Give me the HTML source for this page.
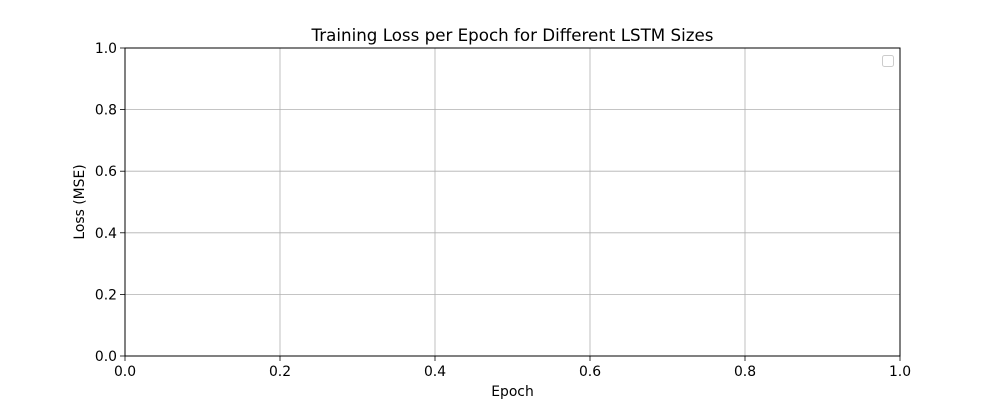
<!DOCTYPE html>
<html>
<head>
<meta charset="utf-8">
<style>
  html, body { margin: 0; padding: 0; background: #fff; }
  svg text { font-family: "DejaVu Sans", "Liberation Sans", sans-serif; fill: #000; }
</style>
</head>
<body>
<svg id="chart" width="1000" height="400" viewBox="0 0 1000 400" xmlns="http://www.w3.org/2000/svg">
  <rect x="0" y="0" width="1000" height="400" fill="#fff"/>
  <text x="512.5" y="41" font-size="16.7" text-anchor="middle">Training Loss per Epoch for Different LSTM Sizes</text>
  <g id="grid"></g>
  <g id="xticks"></g>
  <g id="yticks"></g>
  <rect x="125" y="48" width="775" height="308" fill="none" stroke="#000" stroke-width="1"/>
  <text x="512.5" y="396" font-size="13.9" text-anchor="middle">Epoch</text>
  <text x="0" y="0" font-size="13.9" text-anchor="middle" transform="translate(84,202) rotate(-90)">Loss (MSE)</text>
  <rect x="882.5" y="55.5" width="11" height="11" rx="2" fill="#fff" stroke="#ccc" stroke-width="1"/>
</svg>
<script>
const xTickValues = [0.0, 0.2, 0.4, 0.6, 0.8, 1.0];
const yTickValues = [0.0, 0.2, 0.4, 0.6, 0.8, 1.0];
const xTickLabels = ["0.0", "0.2", "0.4", "0.6", "0.8", "1.0"];
const yTickLabels = ["0.0", "0.2", "0.4", "0.6", "0.8", "1.0"];

const NS = "http://www.w3.org/2000/svg";
const L = 125, R = 900, T = 48, B = 356;
const xMin = 0, xMax = 1, yMin = 0, yMax = 1;
function xScale(v) { return L + (v - xMin) / (xMax - xMin) * (R - L); }
function yScale(v) { return B - (v - yMin) / (yMax - yMin) * (B - T); }

const grid = document.getElementById("grid");
const gx = document.getElementById("xticks");
const gy = document.getElementById("yticks");

xTickValues.forEach((v, i) => {
  const x = xScale(v);
  const gl = document.createElementNS(NS, "line");
  gl.setAttribute("x1", x); gl.setAttribute("x2", x);
  gl.setAttribute("y1", T); gl.setAttribute("y2", B);
  gl.setAttribute("stroke", "#b0b0b0"); gl.setAttribute("stroke-width", "0.8");
  
  
  grid.appendChild(gl);
  const tk = document.createElementNS(NS, "line");
  tk.setAttribute("x1", x); tk.setAttribute("x2", x);
  tk.setAttribute("y1", B); tk.setAttribute("y2", B + 5);
  tk.setAttribute("stroke", "#000"); tk.setAttribute("stroke-width", "0.8");
  
  
  gx.appendChild(tk);
  const t = document.createElementNS(NS, "text");
  t.setAttribute("x", x); t.setAttribute("y", B + 20);
  t.setAttribute("font-size", "13.9"); t.setAttribute("text-anchor", "middle");
  t.textContent = xTickLabels[i];
  
  
  gx.appendChild(t);
});

yTickValues.forEach((v, i) => {
  const y = yScale(v);
  const gl = document.createElementNS(NS, "line");
  gl.setAttribute("x1", L); gl.setAttribute("x2", R);
  gl.setAttribute("y1", y); gl.setAttribute("y2", y);
  gl.setAttribute("stroke", "#b0b0b0"); gl.setAttribute("stroke-width", "0.8");
  
  
  grid.appendChild(gl);
  const tk = document.createElementNS(NS, "line");
  tk.setAttribute("x1", L - 5); tk.setAttribute("x2", L);
  tk.setAttribute("y1", y); tk.setAttribute("y2", y);
  tk.setAttribute("stroke", "#000"); tk.setAttribute("stroke-width", "0.8");
  
  
  gy.appendChild(tk);
  const t = document.createElementNS(NS, "text");
  t.setAttribute("x", L - 8); t.setAttribute("y", y + 5);
  t.setAttribute("font-size", "13.9"); t.setAttribute("text-anchor", "end");
  t.textContent = yTickLabels[i];
  
  
  gy.appendChild(t);
});
</script>
</body>
</html>
